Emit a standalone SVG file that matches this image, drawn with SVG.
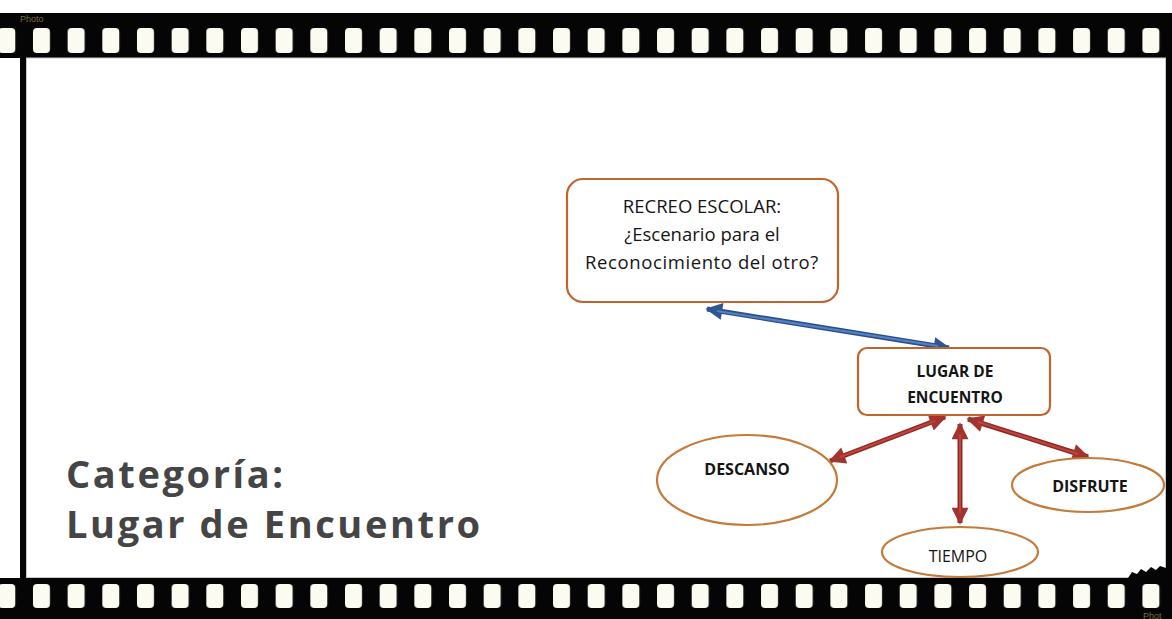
<svg xmlns="http://www.w3.org/2000/svg" width="1172" height="619" viewBox="0 0 1172 619">
<style>
.box{fill:#fff;stroke:#c0652e;stroke-width:2.2}
.ell{fill:#fff;stroke:#c47a3a;stroke-width:2.2}
.t{font-family:"Open Sans","Liberation Sans",sans-serif;fill:#151515;text-anchor:middle}
.b{font-weight:bold}
.blueO{stroke:#2c4f8c;stroke-width:5;fill:none}
.blueI{stroke:#5282c4;stroke-width:2;fill:none}
.redO{stroke:#8e2a26;stroke-width:5;fill:none}
.redI{stroke:#c0443c;stroke-width:2;fill:none}
.title{font-family:"Open Sans","Noto Sans",sans-serif;font-weight:bold;fill:#454545;font-size:38px;letter-spacing:2.6px}
.hole{fill:#fbfbf2}
</style>
<defs>
<pattern id="holesTop" x="-1.7" y="28" width="34.67" height="25" patternUnits="userSpaceOnUse">
<rect class="hole" x="0" y="0" width="17" height="25" rx="4"/>
</pattern>
<pattern id="holesBot" x="-1.7" y="584" width="34.67" height="24" patternUnits="userSpaceOnUse">
<rect class="hole" x="0" y="0" width="17" height="24" rx="4"/>
</pattern>
<marker id="ab" viewBox="0 0 10 10" refX="9" refY="5" markerWidth="4" markerHeight="3.4" orient="auto-start-reverse" markerUnits="strokeWidth">
<path d="M0,0 L10,5 L0,10 z" fill="#2f5595"/>
</marker>
<marker id="ar" viewBox="0 0 10 10" refX="9" refY="5" markerWidth="4" markerHeight="3.4" orient="auto-start-reverse" markerUnits="strokeWidth">
<path d="M0,0 L10,5 L0,10 z" fill="#a3332e"/>
</marker>
</defs>
<rect width="1172" height="619" fill="#fff"/>
<g id="film">
<rect x="0" y="13" width="1172" height="45" fill="#050505"/>
<rect x="0" y="578" width="1172" height="41" fill="#050505"/>
<rect x="20" y="58" width="6" height="520" fill="#050505"/>
<rect x="1166" y="58" width="6" height="520" fill="#050505"/>
<rect x="26.5" y="58" width="1139" height="519.5" fill="#fff" stroke="#c8c8c8" stroke-width="1"/>
<path d="M1128,578 L1132,572 L1137,574 L1141,569 L1146,572 L1151,567 L1156,570 L1160,566 L1166,568 L1166,578 Z" fill="#050505"/>
<rect x="0" y="28" width="1172" height="25" fill="url(#holesTop)"/>
<rect x="0" y="584" width="1172" height="24" fill="url(#holesBot)"/>
<text x="20" y="22" font-family="Liberation Sans,sans-serif" font-size="9" fill="#7a6a3a">Photo</text>
<text x="1143" y="619" font-family="Liberation Sans,sans-serif" font-size="9" fill="#7a6a3a">Phot</text>
</g>
<g id="title">
<text class="title" x="66" y="488">Categoría:</text>
<text class="title" x="66" y="538">Lugar de Encuentro</text>
</g>
<g id="connectors">
<line class="blueO" x1="707" y1="309" x2="949" y2="348" marker-start="url(#ab)" marker-end="url(#ab)"/>
<line class="blueI" x1="717" y1="311" x2="938" y2="346"/>
<line class="redO" x1="945" y1="417" x2="830" y2="461" marker-start="url(#ar)" marker-end="url(#ar)"/>
<line class="redI" x1="935" y1="421" x2="840" y2="457"/>
<line class="redO" x1="960" y1="424" x2="960" y2="523" marker-start="url(#ar)" marker-end="url(#ar)"/>
<line class="redI" x1="960" y1="434" x2="960" y2="513"/>
<line class="redO" x1="968" y1="419" x2="1088" y2="457" marker-start="url(#ar)" marker-end="url(#ar)"/>
<line class="redI" x1="978" y1="422" x2="1078" y2="454"/>
</g>
<g id="recreo">
<rect class="box" x="567" y="179" width="271" height="123" rx="16"/>
<text class="t" x="702" y="213" font-size="18.5">RECREO ESCOLAR:</text>
<text class="t" x="702" y="241" font-size="18.5">¿Escenario para el</text>
<text class="t" x="702" y="269" font-size="18.5" letter-spacing="0.6">Reconocimiento del otro?</text>
</g>
<g id="lugar">
<rect class="box" x="858" y="348" width="192" height="67" rx="9"/>
<text class="t b" x="955" y="377" font-size="15.5">LUGAR DE</text>
<text class="t b" x="955" y="403" font-size="15.5">ENCUENTRO</text>
</g>
<g id="descanso">
<ellipse class="ell" cx="747" cy="480" rx="90" ry="45"/>
<text class="t b" x="747" y="475" font-size="16">DESCANSO</text>
</g>
<g id="disfrute">
<ellipse class="ell" cx="1088" cy="485" rx="76" ry="27"/>
<text class="t b" x="1090" y="492" font-size="16">DISFRUTE</text>
</g>
<g id="tiempo">
<ellipse class="ell" cx="960" cy="552" rx="78" ry="25"/>
<text class="t" x="958" y="562" font-size="16">TIEMPO</text>
</g>
</svg>
